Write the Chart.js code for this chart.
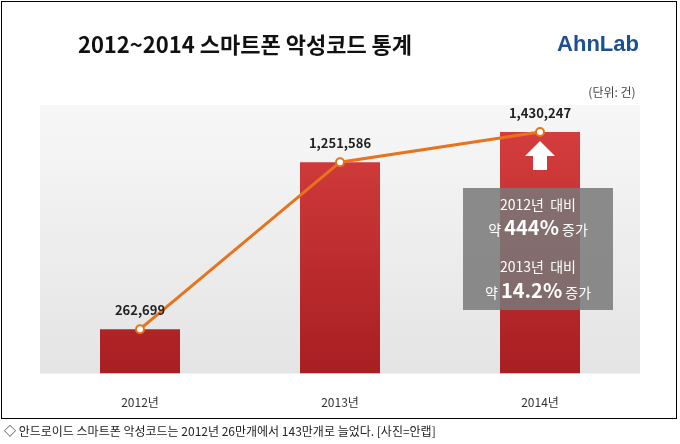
<!DOCTYPE html>
<html><head><meta charset="utf-8">
<script src="https://cdn.jsdelivr.net/npm/chart.js@4"></script>
<style>
body{margin:0;background:#fff;font-family:"Noto Sans CJK KR",sans-serif}
#wrap{position:relative;width:680px;height:444px}
#frame{position:absolute;left:1px;top:1px;width:676px;height:418px;border:1px solid #000;box-sizing:border-box}
</style></head><body>
<div id="wrap"><div id="frame"></div><canvas id="c" width="680" height="444"></canvas></div>
<script>
const years = ['2012년', '2013년', '2014년'];
const counts = [262699, 1251586, 1430247];
const labels = ['262,699', '1,251,586', '1,430,247'];

function runs(ctx, parts, y) {
  let w = 0;
  parts.forEach(p => { ctx.font = p[1]; w += ctx.measureText(p[0]).width; });
  let x = 538 - w / 2;
  ctx.textAlign = 'left';
  parts.forEach(p => { ctx.font = p[1]; ctx.fillText(p[0], x, y); x += ctx.measureText(p[0]).width; });
}

const deco = {
  id: 'deco',
  beforeDraw(chart) {
    const {ctx, chartArea: a} = chart;
    const g = ctx.createLinearGradient(0, a.top, 0, a.bottom);
    g.addColorStop(0, '#f7f7f7'); g.addColorStop(1, '#e4e4e4');
    ctx.fillStyle = g;
    ctx.fillRect(a.left, a.top, a.right - a.left, a.bottom - a.top);
  },
  afterDraw(chart) {
    const {ctx} = chart;
    const x = chart.scales.x, y = chart.scales.y;
    ctx.save();
    ctx.textAlign = 'center';
    ctx.fillStyle = '#111';
    ctx.font = 'bold 22px "Noto Sans CJK KR"';
    ctx.fillText('2012~2014 스마트폰 악성코드 통계', 245, 53);
    ctx.fillStyle = '#1d4f91';
    ctx.font = 'bold 22px "Liberation Sans"';
    ctx.fillText('AhnLab', 598, 51);
    ctx.fillStyle = '#444';
    ctx.font = '12px "Noto Sans CJK KR"';
    ctx.fillText('(단위: 건)', 612, 97);
    ctx.fillStyle = '#222';
    ctx.font = 'bold 13px "Noto Sans CJK KR"';
    counts.forEach((v, i) => {
      ctx.fillText(labels[i], x.getPixelForValue(i), y.getPixelForValue(v) - 14);
    });
    ctx.fillStyle = 'rgba(120,120,120,0.85)';
    ctx.fillRect(463, 188, 150, 122);
    ctx.fillStyle = '#fff';
    const sm = '14px "Noto Sans CJK KR"', bg = 'bold 20px "Noto Sans CJK KR"';
    runs(ctx, [['2012년  대비', sm]], 210);
    runs(ctx, [['약 ', sm], ['444%', bg], [' 증가', sm]], 235);
    runs(ctx, [['2013년  대비', sm]], 272);
    runs(ctx, [['약 ', sm], ['14.2%', bg], [' 증가', sm]], 298);
    ctx.beginPath();
    ctx.moveTo(540, 141); ctx.lineTo(555, 156); ctx.lineTo(547, 156); ctx.lineTo(547, 170);
    ctx.lineTo(533, 170); ctx.lineTo(533, 156); ctx.lineTo(525, 156); ctx.closePath();
    ctx.fillStyle = '#fff'; ctx.fill();
    ctx.textAlign = 'left';
    ctx.fillStyle = '#222';
    ctx.font = '12px "Noto Sans CJK KR"';
    ctx.fillText('◇ 안드로이드 스마트폰 악성코드는 2012년 26만개에서 143만개로 늘었다. [사진=안랩]', 4, 436);
    ctx.restore();
  }
};

new Chart(document.getElementById('c'), {
  data: {
    labels: years,
    datasets: [
      {type: 'line', data: counts, borderColor: '#e8731c', borderWidth: 3,
       pointBackgroundColor: '#fff', pointBorderColor: '#e8731c', pointRadius: 4, pointBorderWidth: 2, order: 0},
      {type: 'bar', data: counts, order: 1, categoryPercentage: 1, barPercentage: 0.4,
       backgroundColor: (c) => {
         const a = c.chart.chartArea; if (!a) return '#c33';
         const g = c.chart.ctx.createLinearGradient(0, a.top, 0, a.bottom);
         g.addColorStop(0, '#d94040'); g.addColorStop(1, '#a81e22'); return g;
       }}
    ]
  },
  options: {
    responsive: false, animation: false,
    layout: {padding: {left: 40, right: 40, top: 105, bottom: 20}},
    plugins: {legend: {display: false}, tooltip: {enabled: false}},
    scales: {
      x: {grid: {display: false}, border: {display: false},
          ticks: {color: '#333', font: {size: 12, family: 'Noto Sans CJK KR'}, padding: 14}},
      y: {display: false, min: 0, max: 1590000}
    }
  },
  plugins: [deco]
});
</script></body></html>
